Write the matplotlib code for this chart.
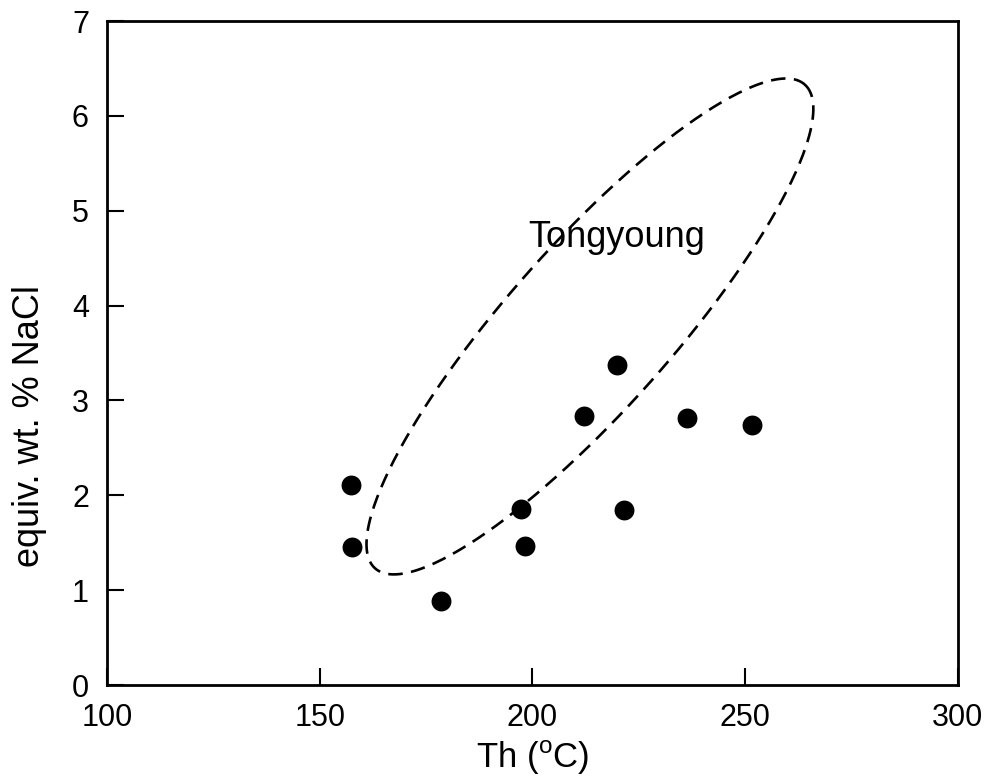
import numpy as np
import matplotlib
matplotlib.use("Agg")
import matplotlib.pyplot as plt

plt.rcParams['font.family'] = ['Liberation Sans', 'DejaVu Sans']
plt.rcParams['mathtext.fontset'] = 'custom'
plt.rcParams['mathtext.rm'] = 'Liberation Sans'

# Data (Th in degC, salinity in equiv. wt. % NaCl)
th = [157.3, 157.6, 178.5, 197.3, 198.3, 212.1, 219.9, 221.5, 236.2, 251.6]
salinity = [2.11, 1.46, 0.885, 1.86, 1.47, 2.84, 3.37, 1.845, 2.82, 2.74]

# Tongyoung field ellipse: centre and two conjugate semi-axis vectors (data units)
ellipse_center = [213.5, 3.78]
ellipse_major = [50.5, 2.55]
ellipse_minor = [14.4, -0.575]
field_label = "Tongyoung"
field_label_pos = [219.8, 4.72]

xticks = [100, 150, 200, 250, 300]
yticks = [0, 1, 2, 3, 4, 5, 6, 7]

fig = plt.figure(figsize=(9.88, 7.81), dpi=100)
ax = fig.add_axes([0.1083, 0.1229, 0.8613, 0.8502])

ax.scatter(th, salinity, s=205, color='black', zorder=3, linewidths=0)

t = np.linspace(0, 2 * np.pi, 400)
ex = ellipse_center[0] + np.cos(t) * ellipse_major[0] + np.sin(t) * ellipse_minor[0]
ey = ellipse_center[1] + np.cos(t) * ellipse_major[1] + np.sin(t) * ellipse_minor[1]
ax.plot(ex, ey, color='black', lw=1.9, linestyle=(0, (5.5, 3.2)))

ax.text(field_label_pos[0], field_label_pos[1], field_label, fontsize=26,
        ha='center', va='center')

ax.set_xlim(100, 300)
ax.set_ylim(0, 7)
ax.set_xticks(xticks)
ax.set_yticks(yticks)
ax.tick_params(direction='in', length=12, width=1.5, labelsize=22, pad=13,
               top=False, right=False)
for sp in ax.spines.values():
    sp.set_linewidth(2)

ax.set_xlabel(r'Th ($^{\rm o}$C)', fontsize=25, labelpad=4)
ax.set_ylabel('equiv. wt. % NaCl', fontsize=26, labelpad=18)
ax.yaxis.label.set_y(0.39)

fig.savefig('out.png', dpi=100)
